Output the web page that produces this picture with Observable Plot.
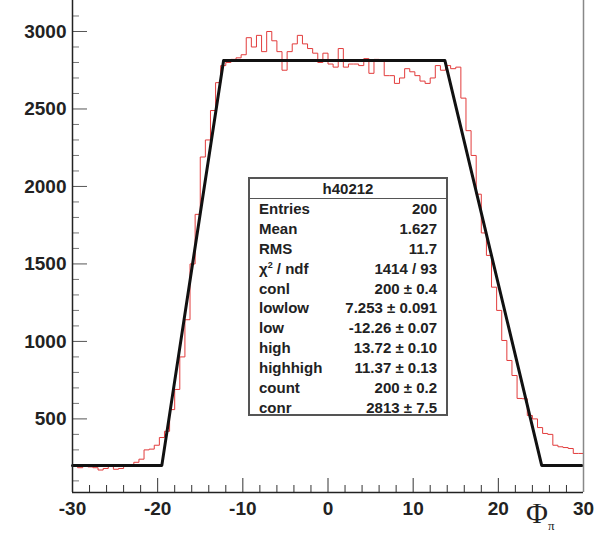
<!DOCTYPE html>
<html><head><meta charset="utf-8">
<script src="https://cdn.jsdelivr.net/npm/d3@7"></script>
<script src="https://cdn.jsdelivr.net/npm/@observablehq/plot@0.6"></script>
<style>
body{margin:0;background:#fff;}
#wrap{position:relative;width:607px;height:533px;overflow:hidden;font-family:"Liberation Sans",Arial,sans-serif;}
#stats{position:absolute;left:248px;top:177px;width:200px;height:239px;box-sizing:border-box;border:2px solid #555;background:#fff;font-weight:bold;font-size:15px;color:#222;}
#stats .hd{height:19px;line-height:19px;text-align:center;border-bottom:1px solid #555;}
#stats .row{height:19.9px;line-height:19.9px;display:flex;justify-content:space-between;padding:0 9px 0 9px;}
#stats sup{font-size:9px;line-height:0;}
#phi{position:absolute;left:526px;top:496px;font-family:"Liberation Serif","DejaVu Serif",serif;font-size:30px;color:#222;}
#phi sub{font-size:13px;}
</style></head>
<body>
<div id="wrap"></div>
<script>
// histogram bin contents (100 bins from -30 to 30)
const histLow = -30;
const histBinWidth = 0.6;
const counts = [
  195,185,200,190,185,170,180,205,175,180,200,205,220,240,
  300,305,330,380,420,560,690,900,1140,1500,1820,2190,2300,2490,2670,2780,
  2800,2820,2830,2850,2960,2900,2975,2870,3000,2940,2870,2750,2870,2920,2975,2920,2890,2860,2800,2860,
  2790,2770,2890,2770,2790,2790,2780,2825,2730,2820,2810,2715,2715,2665,2700,2760,2740,2715,2680,2665,2700,2780,2750,2780,2760,2770,
  2570,2360,2200,1950,1700,1555,1350,1200,1006,877,780,632,630,522,500,444,406,400,330,320,315,309,277,277
];
// fitted trapezoid vertices
const fitX = [-30, -19.51, -12.26, 13.72, 25.09, 29.8];
const fitY = [200, 200, 2813, 2813, 200, 200];

const xTicks = [-30, -20, -10, 0, 10, 20, 30];
const xMinor = [-28,-26,-24,-22,-18,-16,-14,-12,-8,-6,-4,-2,2,4,6,8,12,14,16,18,22,24,26,28];
const yTicks = [500, 1000, 1500, 2000, 2500, 3000];
const yMinor = [100,200,300,400,600,700,800,900,1100,1200,1300,1400,1600,1700,1800,1900,2100,2200,2300,2400,2600,2700,2800,2900,3100];

const statTitle = "h40212";
const statLabels = ["Entries","Mean","RMS","χ<sup>2</sup> / ndf","conl","lowlow","low","high","highhigh","count","conr"];
const statValues = ["200","1.627","11.7","1414 / 93","200 ± 0.4","7.253 ± 0.091","-12.26 ± 0.07","13.72 ± 0.10","11.37 ± 0.13","200 ± 0.2","2813 ± 7.5"];

const histPts = counts.map((c, i) => ({x: histLow + histBinWidth * i, y: c}));
histPts.push({x: histLow + histBinWidth * counts.length, y: counts[counts.length - 1]});
const fitPts = fitX.map((x, i) => ({x, y: fitY[i]}));

const W = 607, H = 533, mL = 72, mR = 24, mT = 0, mB = 41;
const fw = W - mL - mR, fh = H - mT - mB;

const chart = Plot.plot({
  width: W, height: H,
  marginLeft: mL, marginRight: mR, marginTop: mT, marginBottom: mB,
  style: {fontFamily: "'Liberation Sans', Arial, sans-serif", fontSize: "19px", fontWeight: "bold", color: "#222", background: "white"},
  x: {domain: [-30, 30]},
  y: {domain: [25, 3200]},
  marks: [
    Plot.ruleX(xMinor, {insetTop: fh - 7, stroke: "#333", strokeWidth: 1}),
    Plot.ruleX(xTicks, {insetTop: fh - 14, stroke: "#333", strokeWidth: 1}),
    Plot.ruleY(yMinor, {insetRight: fw - 7, stroke: "#777", strokeWidth: 1}),
    Plot.ruleY(yTicks, {insetRight: fw - 15, stroke: "#555", strokeWidth: 1}),
    Plot.line(histPts, {x: "x", y: "y", curve: "step-after", stroke: "#e23c3c", strokeWidth: 1}),
    Plot.line(fitPts, {x: "x", y: "y", stroke: "#111", strokeWidth: 3, strokeLinejoin: "round"}),
    Plot.ruleX([30], {stroke: "#888", strokeWidth: 1.5}),
    Plot.ruleX([-30], {stroke: "#222", strokeWidth: 1.5}),
    Plot.ruleY([25], {stroke: "#222", strokeWidth: 1.5}),
    Plot.axisX(xTicks, {anchor: "bottom", tickSize: 0, tickPadding: 9, tickFormat: d => String(d), label: null}),
    Plot.axisY(yTicks, {anchor: "left", tickSize: 0, tickPadding: 6, tickFormat: d => String(d), label: null})
  ]
});

const wrap = document.getElementById("wrap");
wrap.appendChild(chart);

const box = document.createElement("div");
box.id = "stats";
let html = `<div class="hd">${statTitle}</div>`;
statLabels.forEach((l, i) => {
  html += `<div class="row"><span>${l}</span><span>${statValues[i]}</span></div>`;
});
box.innerHTML = html;
wrap.appendChild(box);

const phi = document.createElement("div");
phi.id = "phi";
phi.innerHTML = "Φ<sub>π</sub>";
wrap.appendChild(phi);
</script>
</body></html>
